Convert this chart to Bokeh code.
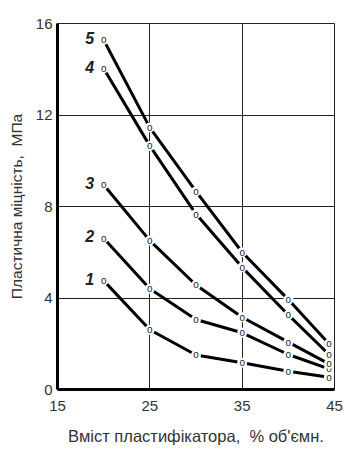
from bokeh.plotting import figure
from bokeh.models import Range1d, FixedTicker, ColumnDataSource
from bokeh.core.properties import value
from bokeh.embed import file_html
from bokeh.resources import INLINE

# plasticizer content, % vol.
content = [20, 25, 30, 35, 40, 44.4]
curve_names = ["1", "2", "3", "4", "5"]
c1 = [4.76, 2.61, 1.51, 1.17, 0.80, 0.54]
c2 = [6.61, 4.40, 3.06, 2.48, 1.53, 0.90]
c3 = [8.95, 6.51, 4.57, 3.16, 2.07, 1.12]
c4 = [14.03, 10.65, 7.67, 5.34, 3.26, 1.53]
c5 = [15.28, 11.45, 8.66, 6.00, 3.93, 2.00]
curves = [c1, c2, c3, c4, c5]

x_ticks = [15, 25, 35, 45]
y_ticks = [0, 4, 8, 12, 16]
x_title = "Вміст пластифікатора,\u00a0 % об'ємн."
y_title = "Пластична міцність,\u00a0 МПа"

FONT = "Liberation Sans"
INK = "#222222"

p = figure(width=353, height=456, output_backend="svg", toolbar_location=None,
           x_range=Range1d(15, 45), y_range=Range1d(0, 16),
           min_border_left=57, min_border_right=19, min_border_top=23,
           min_border_bottom=67, background_fill_color="white",
           border_fill_color="white")

p.outline_line_color = INK
p.outline_line_width = 1

for ax, ticks in ((p.xaxis, x_ticks), (p.yaxis, y_ticks)):
    ax.ticker = FixedTicker(ticks=ticks)
    ax.axis_line_width = 3
    ax.axis_line_color = "black"
    ax.major_tick_line_color = None
    ax.minor_tick_line_color = None
    ax.major_tick_in = 0
    ax.major_tick_out = 0
    ax.major_label_text_font = FONT
    ax.major_label_text_font_size = "15px"
    ax.major_label_text_color = "#333333"
    ax.axis_label_text_font = FONT
    ax.axis_label_text_font_style = "normal"
    ax.axis_label_text_color = "#333333"

p.xaxis.axis_label = x_title
p.yaxis.axis_label = y_title
p.xaxis.axis_label_text_font_size = "16.5px"
p.yaxis.axis_label_text_font_size = "15.5px"
p.xaxis.major_label_standoff = 11
p.xaxis.axis_label_standoff = 13
p.yaxis.major_label_standoff = 5
p.yaxis.axis_label_standoff = 8

p.xgrid.ticker = FixedTicker(ticks=x_ticks)
p.ygrid.ticker = FixedTicker(ticks=y_ticks)
for g in (p.xgrid, p.ygrid):
    g.grid_line_color = INK
    g.grid_line_width = 1
    g.grid_line_alpha = 1

for c in curves:
    p.line(content, c, line_width=3, line_color="black")

for c in curves:
    src = ColumnDataSource(dict(x=content, y=c))
    p.scatter("x", "y", source=src, size=10, fill_color="white", line_color=None)
    p.text("x", "y", source=src, text=value("o"), text_font=value(FONT),
           text_font_size="10px", text_align="center", text_baseline="middle",
           text_color=INK)

lab = ColumnDataSource(dict(x=[content[0]] * len(curves),
                            y=[c[0] for c in curves], t=curve_names))
p.text("x", "y", source=lab, text="t", x_offset=-14, y_offset=-2,
       text_font=value(FONT), text_font_size="16px", text_font_style="bold italic",
       text_align="center", text_baseline="middle", text_color=INK)

open("out.html", "w").write(file_html(p, INLINE))
